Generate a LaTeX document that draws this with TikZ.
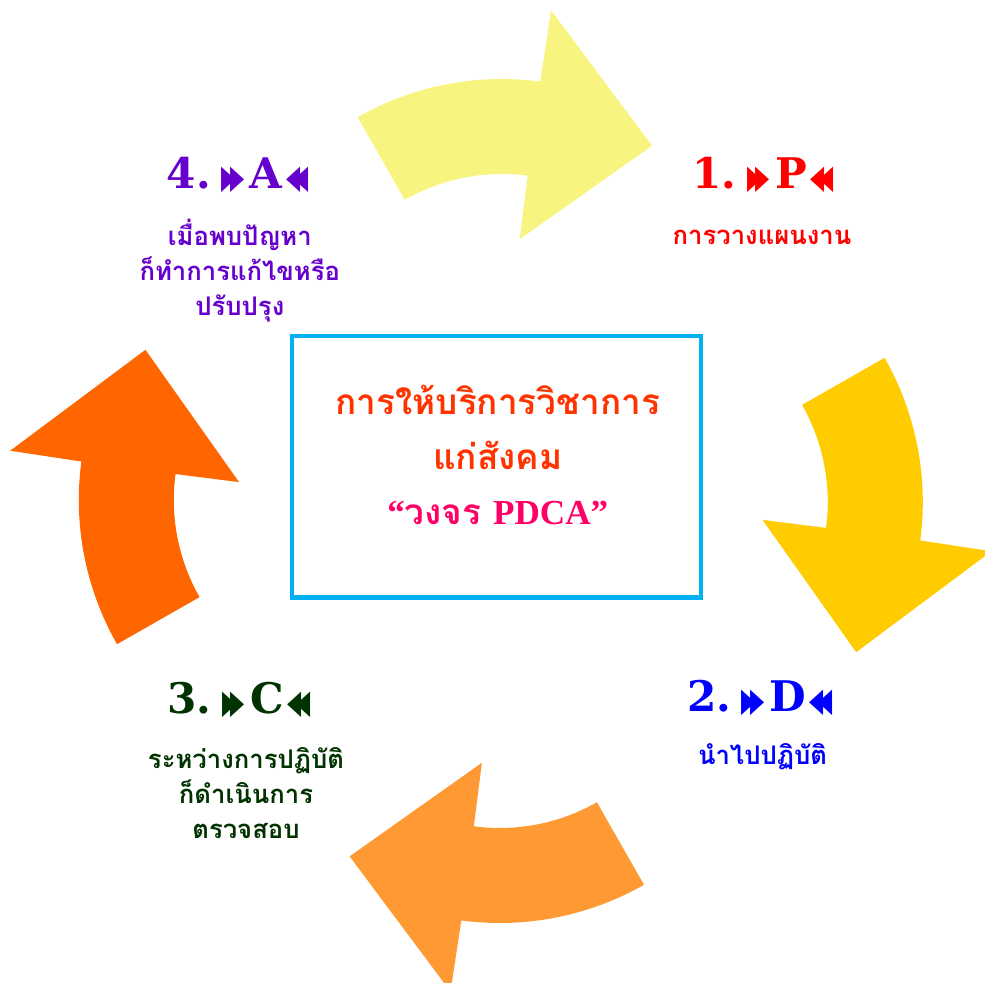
\documentclass[tikz,border=0pt]{standalone}
\usepackage{fontspec}
\usepackage{graphicx}
\newfontfamily\thaifont[Script=Thai]{Loma}
\newfontfamily\headfont{DejaVu Serif}
\newfontfamily\symfont{DejaVu Sans}
\newfontfamily\latinfont{Liberation Serif}
\definecolor{pyellow}{HTML}{F7F57F}
\definecolor{pgold}{HTML}{FFCC00}
\definecolor{plight}{HTML}{FF9933}
\definecolor{pdark}{HTML}{FF6600}
\definecolor{actpurple}{HTML}{6600CC}
\definecolor{chkgreen}{HTML}{003300}
\definecolor{doblue}{HTML}{0000FF}
\definecolor{boxblue}{HTML}{00B0F0}
\definecolor{titleorange}{HTML}{FF3300}
\definecolor{titlepink}{HTML}{FF0066}
\newcommand{\fwdmark}{{\symfont\fontsize{9.5}{9.5}\selectfont\scalebox{0.55}[1]{▶}\kern-1.5pt\scalebox{0.55}[1]{▶}}}
\newcommand{\bwdmark}{{\symfont\fontsize{9.5}{9.5}\selectfont\scalebox{0.55}[1]{◀}\kern-1.5pt\scalebox{0.55}[1]{◀}}}

\begin{document}
\begin{tikzpicture}[
    head/.style={font=\headfont\bfseries\fontsize{12}{12}\selectfont, inner sep=0pt},
    desc/.style={font=\thaifont\bfseries\fontsize{7.3}{10}\selectfont, align=center, inner sep=0pt}]
  \useasboundingbox (-5.008,-4.81) rectangle (4.842,5.01);
  % the four curved arrows, one shape turned round the centre
  \foreach \ang/\col in {0/pyellow, -90/pgold, -180/plight, -270/pdark} {
    \begin{scope}[rotate=\ang, shift={(0.01,1.31)}]
      \fill[\col] (119.7:2.91) arc[start angle=119.7, end angle=82.4, radius=2.91]
        -- (82.2:3.63) -- (56.2:2.70) -- (82.2:1.32) -- (82.4:1.96)
        arc[start angle=82.4, end angle=119.7, radius=1.96] -- cycle;
    \end{scope}
  }
  % centre box
  \node[draw=boxblue, line width=1.2pt, minimum width=4.09cm, minimum height=2.615cm] (core) at (-0.043,0.342) {};
  \node[font=\thaifont\bfseries\fontsize{10}{15.6}\selectfont, align=center, text=titleorange] (title) at (-0.03,0.46)
    {การให้บริการวิชาการ\\แก่สังคม\\{\color{titlepink}{\latinfont\bfseries “}วงจร {\latinfont\bfseries PDCA”}}};
  % the four steps
  \node[head, red] (headP) at (2.622,3.26) {1.\hspace{3pt}\fwdmark\hspace{1.5pt}P\hspace{1pt}\bwdmark};
  \node[desc, red] (descP) at (2.612,2.64) {การวางแผนงาน};
  \node[head, doblue] (headD) at (2.592,-1.97) {2.\hspace{3pt}\fwdmark\hspace{1.5pt}D\hspace{1pt}\bwdmark};
  \node[desc, doblue] (descD) at (2.617,-2.56) {นำไปปฏิบัติ};
  \node[head, chkgreen] (headC) at (-2.618,-1.99) {3.\hspace{3pt}\fwdmark\hspace{1.5pt}C\hspace{1pt}\bwdmark};
  \node[desc, chkgreen] (descC) at (-2.548,-2.92) {ระหว่างการปฏิบัติ\\ก็ดำเนินการ\\ตรวจสอบ};
  \node[head, actpurple] (headA) at (-2.628,3.26) {4.\hspace{3pt}\fwdmark\hspace{1.5pt}A\hspace{1pt}\bwdmark};
  \node[desc, actpurple] (descA) at (-2.61,2.30) {เมื่อพบปัญหา\\ก็ทำการแก้ไขหรือ\\ปรับปรุง};
\end{tikzpicture}
\end{document}
